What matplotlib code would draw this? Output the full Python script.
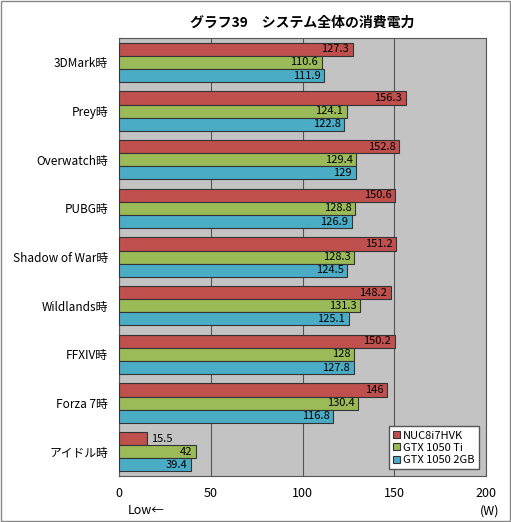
import matplotlib.pyplot as plt
import numpy as np
plt.rcParams['font.family'] = ['Noto Sans CJK JP', 'DejaVu Sans']

categories = ['3DMark時', 'Prey時', 'Overwatch時', 'PUBG時', 'Shadow of War時',
              'Wildlands時', 'FFXIV時', 'Forza 7時', 'アイドル時']
series = ['NUC8i7HVK', 'GTX 1050 Ti', 'GTX 1050 2GB']
nuc = [127.3, 156.3, 152.8, 150.6, 151.2, 148.2, 150.2, 146, 15.5]
ti = [110.6, 124.1, 129.4, 128.8, 128.3, 131.3, 128, 130.4, 42]
gb2 = [111.9, 122.8, 129, 126.9, 124.5, 125.1, 127.8, 116.8, 39.4]
colors = ['#c0504d', '#9bbb59', '#4bacc6']

fig = plt.figure(figsize=(5.11, 5.22), dpi=100)
fig.patch.set_facecolor('white')
ax = fig.add_axes([0.233, 0.088, 0.718, 0.839])
ax.set_facecolor('#c3c3c3')
n = len(categories)
y = np.arange(n)
h = 0.27
for i, (vals, c, lab) in enumerate(zip([nuc, ti, gb2], colors, series)):
    pos = y + (i - 1) * h
    ax.barh(pos, vals, height=h, color=c, edgecolor='#333333', linewidth=0.8, label=lab, zorder=3)
    for p, v in zip(pos, vals):
        if v < 20:
            ax.text(v + 2, p, f'{v:g}', ha='left', va='center', fontsize=8, zorder=4)
        else:
            ax.text(v - 2, p, f'{v:g}', ha='right', va='center', fontsize=8, zorder=4)
ax.set_ylim(n - 0.5, -0.5)
ax.set_xlim(0, 200)
ax.set_xticks([0, 50, 100, 150, 200])
ax.set_xticklabels(['0', '50', '100', '150', '200'], fontsize=9)
ax.set_yticks(y)
ax.set_yticklabels(categories, fontsize=8.5)
ax.tick_params(length=0, pad=8)
ax.grid(axis='x', color='#555555', linewidth=0.8, zorder=1)
for s in ax.spines.values():
    s.set_color('#555555')
ax.set_title('グラフ39　システム全体の消費電力', fontsize=10, fontweight='bold', pad=8)
leg = ax.legend(loc='lower right', fontsize=8, fancybox=False, framealpha=1,
                edgecolor='#555555', handlelength=0.6, handleheight=0.6, handletextpad=0.3,
                borderaxespad=0.6, labelspacing=0.2)
fig.text(0.25, 0.015, 'Low←', fontsize=9)
fig.text(0.94, 0.015, '(W)', fontsize=9)
fig.add_artist(plt.Rectangle((0.002, 0.002), 0.996, 0.996, fill=False, edgecolor='#888888', lw=1, transform=fig.transFigure))
fig.savefig('out.png', dpi=100)
